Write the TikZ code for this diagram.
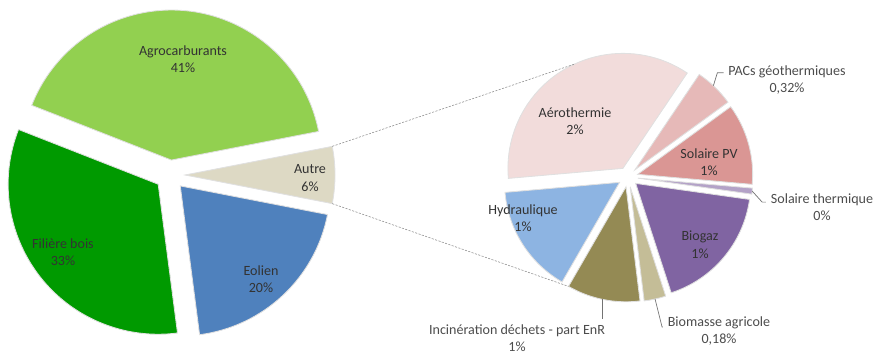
\documentclass[tikz,border=0pt]{standalone}
\usepackage{fontspec}
\setmainfont{Carlito}
\usepackage{tikz}
\usetikzlibrary{calc}
\definecolor{agro}{HTML}{92D050}
\definecolor{bois}{HTML}{009A00}
\definecolor{eolien}{HTML}{4F81BD}
\definecolor{autre}{HTML}{DDD9C4}
\definecolor{aero}{HTML}{F2DCDB}
\definecolor{pacs}{HTML}{E6B9B8}
\definecolor{solpv}{HTML}{DA9694}
\definecolor{solth}{HTML}{B3A2C7}
\definecolor{biogaz}{HTML}{8064A2}
\definecolor{biomasse}{HTML}{C4BD97}
\definecolor{incin}{HTML}{948A54}
\definecolor{hydro}{HTML}{8DB4E2}
% slice: [style](centre)(start:end:radius:explode)
\def\pieslice[#1](#2)(#3:#4:#5:#6){\draw[#1] ($(#2)+({(#3+#4)/2}:#6)$) -- ++(#3:#5) arc (#3:#4:#5) -- cycle;}

\begin{document}
\begin{tikzpicture}[x=0.025cm, y=0.025cm, font=\fontsize{10}{12.5}\selectfont]
		%%%%% START %%%%%
		\useasboundingbox (0, 0) rectangle (874, 354);
		
		\coordinate (bigpie) at (170, 179);
		\coordinate (smallpie) at (628, 177);
		
		% big pie
		\pieslice[fill=agro, draw=black!12, line width=0.6pt](bigpie)(11:158.6:150:15);
		\pieslice[fill=bois, draw=black!12, line width=0.6pt](bigpie)(158.6:277.4:150:15);
		\pieslice[fill=eolien, draw=black!12, line width=0.6pt](bigpie)(277.4:349:150:15);
		\pieslice[fill=autre, draw=black!12, line width=0.6pt](bigpie)(-11:11:150:15);
		
		% small pie
		\pieslice[fill=aero, draw=black!12, line width=0.6pt](smallpie)(56:185:115:10);
		\pieslice[fill=pacs, draw=black!12, line width=0.6pt](smallpie)(36:56:115:10);
		\pieslice[fill=solpv, draw=black!12, line width=0.6pt](smallpie)(-5:36:115:10);
		\pieslice[fill=solth, draw=black!12, line width=0.6pt](smallpie)(-8:-5:115:10);
		\pieslice[fill=biogaz, draw=black!12, line width=0.6pt](smallpie)(-72:-8:115:10);
		\pieslice[fill=biomasse, draw=black!12, line width=0.6pt](smallpie)(-83:-72:115:10);
		\pieslice[fill=incin, draw=black!12, line width=0.6pt](smallpie)(-120:-83:115:10);
		\pieslice[fill=hydro, draw=black!12, line width=0.6pt](smallpie)(-175:-120:115:10);
		
		% corners for the dashed lines and leaders
		\coordinate (autreTop) at ($(bigpie)+(0:15)+(11:150)$);
		\coordinate (autreBot) at ($(bigpie)+(0:15)+(-11:150)$);
		\coordinate (aeroTop) at ($(smallpie)+(120.5:10)+(115:115)$);
		\coordinate (incCorner) at ($(smallpie)+(-101.5:10)+(-120:115)$);
		\coordinate (pacsPt) at ($(smallpie)+(46:10)+(47:115)$);
		\coordinate (pacsKnee) at ($(pacsPt)+(4, 13)$);
		\coordinate (solthPt) at ($(smallpie)+(-6.5:10)+(-6.5:115)$);
		\coordinate (solthKnee) at ($(solthPt)+(10, -11)$);
		\coordinate (biomPt) at ($(smallpie)+(-77.5:10)+(-77.5:115)$);
		\coordinate (biomKnee) at ($(biomPt)+(7, -28)$);
		\coordinate (incPt) at ($(smallpie)+(-101.5:10)+(-102:115)$);
		
		\draw[dashed, dash pattern=on 1.5pt off 1pt, color=black!45, line width=0.4pt] (autreTop) -- (aeroTop);
		\draw[dashed, dash pattern=on 1.5pt off 1pt, color=black!45, line width=0.4pt] (autreBot) -- (incCorner);
		
		% labels in the slices
		\node[align=center, color=black!80] (lagro) at (183, 295) {Agrocarburants\\41\%};
		\node[align=center, color=black!80] (lbois) at (63, 102) {Filière bois\\33\%};
		\node[align=center, color=black!80] (leolien) at (261, 75) {Eolien\\20\%};
		\node[align=center, color=black!80] (lautre) at (310, 176) {Autre\\6\%};
		\node[align=center, color=black!80] (laero) at (575, 233) {Aérothermie\\2\%};
		\node[align=center, color=black!80] (lsolpv) at (709, 192) {Solaire PV\\1\%};
		\node[align=center, color=black!80] (lbiogaz) at (700, 109) {Biogaz\\1\%};
		\node[align=center, color=black!80] (lhydro) at (523, 136) {Hydraulique\\1\%};
		
		% labels outside
		\node[align=center, color=black!70] (lpacs) at (787, 274) {PACs géothermiques\\0,32\%};
		\node[align=center, color=black!70] (lsolth) at (822, 147) {Solaire thermique\\0\%};
		\node[align=center, color=black!70] (lbiom) at (719, 23) {Biomasse agricole\\0,18\%};
		\node[align=center, color=black!70] (linc) at (517, 16) {Incinération déchets - part EnR\\1\%};
		
		\draw[color=black!55, line width=0.5pt] (pacsPt) -- (pacsKnee) -- (pacsKnee -| lpacs.west);
		\draw[color=black!55, line width=0.5pt] (solthPt) -- (solthKnee) -- (solthKnee -| lsolth.west);
		\draw[color=black!55, line width=0.5pt] (biomPt) -- (biomKnee) -- (biomKnee -| lbiom.west);
		\draw[color=black!55, line width=0.5pt] (incPt) -- (incPt |- linc.north);
		
		%%%%% END %%%%%
	\end{tikzpicture}
\end{document}
